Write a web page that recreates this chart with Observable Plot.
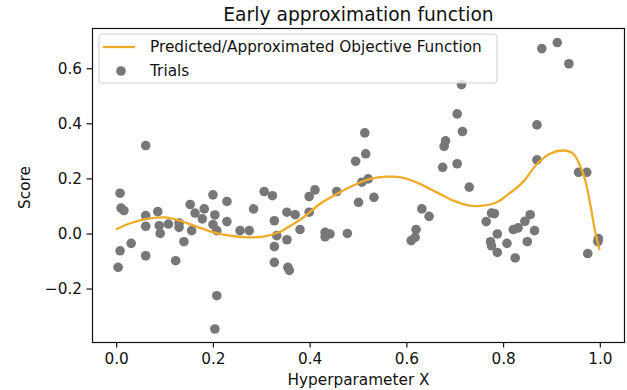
<!DOCTYPE html>
<html>
<head>
<meta charset="utf-8">
<script src="https://cdn.jsdelivr.net/npm/d3@7"></script>
<script src="https://cdn.jsdelivr.net/npm/@observablehq/plot@0.6"></script>
<style>
  html, body { margin: 0; padding: 0; background: #fff; }
  #chart { width: 627px; height: 390px; }
</style>
</head>
<body>
<div id="chart"></div>
<script>
// Sampled trials: hyperparameter value and observed score
const trialX = [
  0.007, 0.009, 0.015, 0.007, 0.030, 0.003, 0.060, 0.060, 0.060, 0.060,
  0.085, 0.088, 0.090, 0.107, 0.122, 0.129, 0.129, 0.139, 0.152, 0.155,
  0.162, 0.181, 0.177, 0.199, 0.203, 0.199, 0.207, 0.228, 0.228, 0.207,
  0.203, 0.255, 0.274, 0.283, 0.305, 0.322, 0.326, 0.331, 0.326, 0.326,
  0.352, 0.369, 0.352, 0.379, 0.354, 0.357, 0.398, 0.410, 0.398, 0.431,
  0.441, 0.431, 0.455, 0.477, 0.500, 0.507, 0.520, 0.532, 0.513, 0.515,
  0.494, 0.609, 0.617, 0.619, 0.631, 0.646, 0.713, 0.704, 0.715, 0.680,
  0.677, 0.674, 0.704, 0.729, 0.775, 0.781, 0.764, 0.787, 0.773, 0.775,
  0.787, 0.807, 0.824, 0.820, 0.830, 0.844, 0.855, 0.864, 0.849, 0.869,
  0.869, 0.879, 0.911, 0.935, 0.955, 0.972, 0.974, 0.995, 0.996
];
const trialScore = [
  0.148, 0.094, 0.085, -0.061, -0.034, -0.121, 0.067, 0.028, -0.079, 0.321,
  0.081, 0.030, 0.002, 0.036, -0.097, 0.040, 0.024, -0.028, 0.107, 0.012,
  0.076, 0.091, 0.055, 0.142, 0.069, 0.034, 0.012, 0.118, 0.045, -0.224,
  -0.345, 0.012, 0.012, 0.091, 0.154, 0.139, 0.048, -0.006, -0.046, -0.103,
  0.079, 0.070, -0.021, 0.016, -0.121, -0.132, 0.136, 0.160, 0.079, 0.006,
  0.000, -0.010, 0.154, 0.002, 0.115, 0.188, 0.200, 0.133, 0.367, 0.291,
  0.264, -0.024, -0.012, 0.016, 0.091, 0.064, 0.542, 0.436, 0.372, 0.338,
  0.318, 0.242, 0.255, 0.170, 0.076, 0.074, 0.045, 0.000, -0.028, -0.043,
  -0.067, -0.034, -0.087, 0.016, 0.022, 0.046, 0.070, 0.012, -0.028, 0.396,
  0.269, 0.673, 0.695, 0.618, 0.224, 0.224, -0.071, -0.028, -0.017
];

// Surrogate model prediction across the hyperparameter range
const fitX = [
  0.000, 0.028, 0.062, 0.100, 0.131, 0.165, 0.200, 0.234, 0.269, 0.303,
  0.338, 0.352, 0.386, 0.420, 0.455, 0.489, 0.524, 0.558, 0.593, 0.627,
  0.662, 0.696, 0.730, 0.758, 0.786, 0.806, 0.841, 0.868, 0.896, 0.923,
  0.944, 0.958, 0.968, 0.979, 0.989, 0.998
];
const fitScore = [
  0.018, 0.039, 0.055, 0.060, 0.048, 0.027, 0.006, -0.006, -0.012, -0.010,
  0.008, 0.022, 0.060, 0.109, 0.145, 0.176, 0.200, 0.208, 0.204, 0.182,
  0.151, 0.121, 0.103, 0.103, 0.115, 0.139, 0.190, 0.252, 0.291, 0.303,
  0.291, 0.248, 0.201, 0.109, 0.012, -0.055
];

const xTicks = [0, 0.2, 0.4, 0.6, 0.8, 1.0];
const yTicks = [-0.2, 0, 0.2, 0.4, 0.6];

const lineColor = "#efac28";
const dotColor = "#777777";
const font = "DejaVu Sans";
const fmt = d3.format(".1f");

const trials = trialX.map((x, i) => ({x, y: trialScore[i]}));
const fit = fitX.map((x, i) => ({x, y: fitScore[i]}));

const plot = Plot.plot({
  width: 627,
  height: 390,
  marginLeft: 92,
  marginRight: 3,
  marginTop: 28,
  marginBottom: 48,
  style: {fontFamily: font, fontSize: "15.3px", color: "#111", background: "#fff"},
  x: {domain: [-0.05, 1.05]},
  y: {domain: [-0.394, 0.746]},
  marks: [
    Plot.dot(trials, {x: "x", y: "y", r: 4.8, fill: dotColor, stroke: "none"}),
    Plot.line(fit, {x: "x", y: "y", stroke: lineColor, strokeWidth: 2.3, curve: "catmull-rom"}),
    Plot.frame({stroke: "#111", strokeWidth: 1.2}),
    Plot.axisX({ticks: xTicks, tickFormat: fmt, tickSize: 5.5, tickPadding: 5, strokeWidth: 1.2, label: null}),
    Plot.axisY({ticks: yTicks, tickFormat: fmt, tickSize: 5.5, tickPadding: 5, strokeWidth: 1.2, label: null}),
    Plot.text(["Early approximation function"], {frameAnchor: "top", dy: -13.5, lineAnchor: "middle", fontSize: 18.7, fill: "#111"}),
    Plot.text(["Hyperparameter X"], {frameAnchor: "bottom", dy: 38, lineAnchor: "middle", fontSize: 15.3, fill: "#111"}),
    Plot.text(["Score"], {frameAnchor: "left", dx: -67, dy: 2, rotate: -90, textAnchor: "middle", lineAnchor: "middle", fontSize: 15.3, fill: "#111"})
  ]
});

// Legend box in the upper-left corner of the axes
const svg = d3.select(plot);
const legend = svg.append("g")
  .attr("font-family", font)
  .attr("font-size", 15.3)
  .attr("text-anchor", "start");
legend.append("rect")
  .attr("x", 99).attr("y", 34).attr("width", 398).attr("height", 49).attr("rx", 3)
  .attr("fill", "#fff").attr("fill-opacity", 0.8).attr("stroke", "#d0d0d0");
legend.append("line")
  .attr("x1", 103).attr("x2", 135).attr("y1", 47).attr("y2", 47)
  .attr("stroke", lineColor).attr("stroke-width", 2.3);
legend.append("circle")
  .attr("cx", 121).attr("cy", 71).attr("r", 4.8).attr("fill", dotColor);
legend.append("text")
  .attr("x", 150).attr("y", 47).attr("dy", "0.35em").attr("fill", "#111")
  .text("Predicted/Approximated Objective Function");
legend.append("text")
  .attr("x", 150).attr("y", 71).attr("dy", "0.35em").attr("fill", "#111")
  .text("Trials");

document.getElementById("chart").appendChild(plot);
</script>
</body>
</html>
